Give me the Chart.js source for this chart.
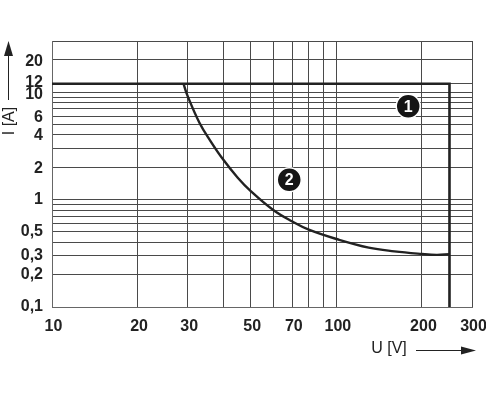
<!DOCTYPE html>
<html>
<head>
<meta charset="utf-8">
<style>
  html, body { margin: 0; padding: 0; background: #fff; }
  #wrap { width: 486px; height: 400px; }
</style>
<script src="https://cdn.jsdelivr.net/npm/chart.js@4"></script>
</head>
<body>
<div id="wrap"><canvas id="mycanvas" width="486" height="400"></canvas></div>
<script>
var uTicks = [10, 20, 30, 40, 50, 60, 70, 80, 90, 100, 200, 300];
var uLabels = [10, 20, 30, 50, 70, 100, 200, 300];
var iTicks = [0.1, 0.2, 0.3, 0.4, 0.5, 0.6, 0.7, 0.8, 0.9, 1, 2, 3, 4, 5, 6, 7, 8, 9, 10, 12, 20, 30];
var iLabels = [0.1, 0.2, 0.3, 0.5, 1, 2, 4, 6, 10, 12, 20];

var limitU = [10, 250, 250];
var limitI = [12, 12, 0.1];

var curveU = [29, 30, 33, 36, 40, 45, 50, 60, 70, 80, 100, 130, 160, 200, 225, 250];
var curveI = [12, 9.2, 5.2, 3.55, 2.36, 1.6, 1.2, 0.8, 0.625, 0.525, 0.43, 0.357, 0.33, 0.312, 0.306, 0.31];

var markerU = [179, 68.3];
var markerI = [7.4, 1.53];
var markerText = ['1', '2'];

var ink = '#222222';
var gridInk = '#4a4a4a';

function toPoints(xs, ys) {
  return xs.map(function(x, i) { return { x: x, y: ys[i] }; });
}

var notes = {
  id: 'notes',
  beforeDraw: function(chart) {
    // the original nudges some tick labels so 10 and 12 do not collide
    var nudge = { '10': 2.5, '12': -1, '20': 2, '6': 1.5, '4': 1, '2': 1 };
    chart.scales.y.getLabelItems().forEach(function(item) {
      if (nudge[item.label]) item.options.translation[1] += nudge[item.label];
    });
    chart.scales.x.getLabelItems().forEach(function(item) {
      if (item.label) item.options.translation[0] += 1.5;
    });
  },
  afterDatasetsDraw: function(chart) {
    var c = chart.ctx;
    var x = chart.scales.x;
    var y = chart.scales.y;
    c.save();

    // numbers inside the round markers
    c.fillStyle = '#fff';
    c.font = 'bold 16px "Liberation Sans"';
    c.textAlign = 'center';
    c.textBaseline = 'middle';
    markerText.forEach(function(t, i) {
      c.fillText(t, x.getPixelForValue(markerU[i]), y.getPixelForValue(markerI[i]) + 1);
    });

    // axis names and arrows
    c.fillStyle = ink;
    c.strokeStyle = ink;
    c.lineWidth = 1;
    c.font = '16px "Liberation Sans"';
    c.fillText('U [V]', 389, 349);

    c.beginPath();
    c.moveTo(416, 350.5);
    c.lineTo(462, 350.5);
    c.stroke();
    c.beginPath();
    c.moveTo(476, 350.5);
    c.lineTo(461, 346.5);
    c.lineTo(461, 354.5);
    c.closePath();
    c.fill();

    c.beginPath();
    c.moveTo(8.5, 100);
    c.lineTo(8.5, 54);
    c.stroke();
    c.beginPath();
    c.moveTo(8.5, 41);
    c.lineTo(4, 56);
    c.lineTo(13, 56);
    c.closePath();
    c.fill();

    c.save();
    c.translate(9.5, 121);
    c.rotate(-Math.PI / 2);
    c.fillText('I [A]', 0, 0);
    c.restore();

    c.restore();
  }
};

var ctx = document.getElementById('mycanvas');

new Chart(ctx, {
  type: 'line',
  plugins: [notes],
  data: {
    datasets: [
      {
        label: 'limit',
        data: toPoints(limitU, limitI),
        borderColor: ink,
        borderWidth: 2.6,
        pointRadius: 0,
        tension: 0,
        order: 3
      },
      {
        label: 'curve',
        data: toPoints(curveU, curveI),
        borderColor: ink,
        borderWidth: 2.4,
        pointRadius: 0,
        tension: 0.4,
        order: 2
      },
      {
        label: 'markers',
        data: toPoints(markerU, markerI),
        showLine: false,
        pointRadius: 12,
        pointBackgroundColor: '#151515',
        pointBorderColor: '#fff',
        pointBorderWidth: 1.5,
        order: 1
      }
    ]
  },
  options: {
    responsive: false,
    animation: false,
    layout: { padding: { left: 0, top: 41, right: 14, bottom: 0 }, autoPadding: false },
    plugins: { legend: { display: false }, tooltip: { enabled: false } },
    scales: {
      x: {
        type: 'logarithmic',
        min: 10,
        max: 300,
        afterBuildTicks: function(scale) {
          scale.ticks = uTicks.map(function(v) { return { value: v }; });
        },
        afterFit: function(scale) {
          scale.height = 93;
          scale.paddingLeft = 0;
          scale.paddingRight = 0;
        },
        border: { color: '#666', width: 1 },
        grid: { color: gridInk, lineWidth: 1, drawTicks: false },
        ticks: {
          autoSkip: false,
          maxRotation: 0,
          minRotation: 0,
          padding: 10,
          color: ink,
          font: { family: '"Liberation Sans"', size: 16, weight: 'bold' },
          callback: function(v) { return uLabels.indexOf(v) >= 0 ? String(v) : ''; }
        }
      },
      y: {
        type: 'logarithmic',
        min: 0.1,
        max: 30,
        afterBuildTicks: function(scale) {
          scale.ticks = iTicks.map(function(v) { return { value: v }; });
        },
        afterFit: function(scale) {
          scale.width = 52;
          scale.paddingTop = 0;
          scale.paddingBottom = 0;
        },
        border: { color: '#666', width: 1 },
        grid: { color: gridInk, lineWidth: 1, drawTicks: false },
        ticks: {
          autoSkip: false,
          padding: 9,
          color: ink,
          font: { family: '"Liberation Sans"', size: 16, weight: 'bold' },
          callback: function(v) { return iLabels.indexOf(v) >= 0 ? String(v).replace('.', ',') : ''; }
        }
      }
    }
  }
});
</script>
</body>
</html>
